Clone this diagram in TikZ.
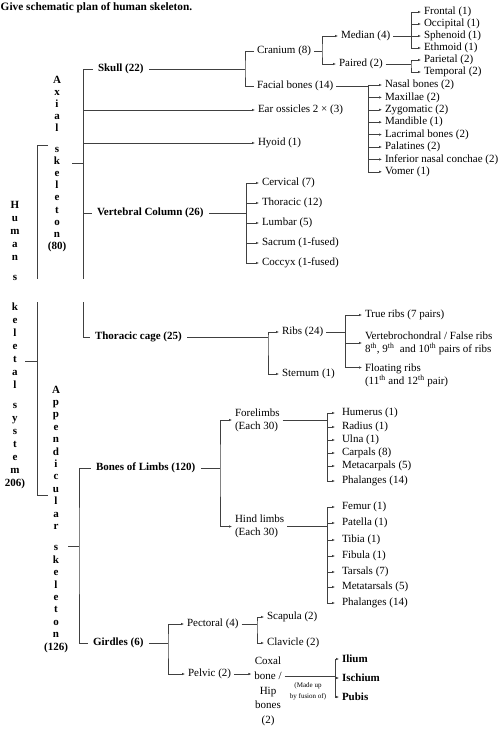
\documentclass[tikz,border=0pt]{standalone}
\usepackage{fontspec}
\setmainfont{Liberation Serif}
\usetikzlibrary{arrows.meta}

\tikzset{
  bone/.style={anchor=west, inner sep=1.5pt, outer sep=1.5pt, text=black,
    font=\fontsize{11}{13}\selectfont},
  part/.style={anchor=west, inner sep=1.5pt, outer sep=4pt, text=black,
    font=\bfseries\fontsize{11}{13}\selectfont},
  column/.style={anchor=north, align=center, inner sep=0pt, text=black},
  short/.style={shorten >=4pt},
}

\begin{document}
\begin{tikzpicture}[x=1pt, y=-1pt, >={Latex[length=3pt,width=2.4pt]}, line width=0.5pt, black!75]
\fill[white] (0,0) rectangle (499,733);
\useasboundingbox (0,0) rectangle (499,733);

% title
\node[anchor=west, inner sep=0pt, text=black, font=\bfseries\fontsize{11.3}{13}\selectfont] (title) at (0.5,8) {Give schematic plan of human skeleton.};

% vertical headings
\node[column, font=\bfseries\fontsize{11}{13}\selectfont] (humans) at (15,201.5)
  {H\\u\\m\\a\\n\\[7pt]s\\[17pt]k\\e\\l\\e\\t\\a\\l\\[7pt]s\\y\\s\\t\\e\\m\\206)};
\node[column, font=\bfseries\fontsize{11}{12.2}\selectfont] (axial) at (57,75.5)
  {A\\x\\i\\a\\l\\[8pt]s\\k\\e\\l\\e\\t\\o\\n\\(80)};
\node[column, font=\bfseries\fontsize{11}{12.4}\selectfont] (append) at (56,385.5)
  {A\\p\\p\\e\\n\\d\\i\\c\\u\\l\\a\\r\\[9pt]s\\k\\e\\l\\e\\t\\o\\n\\(126)};

% main parts
\node[part] (skull) at (92.5,69) {Skull (22)};
\node[part] (vert) at (91.5,213) {Vertebral Column (26)};
\node[part] (thor) at (89.5,337) {Thoracic cage (25)};
\node[part] (limbs) at (90.5,468) {Bones of Limbs (120)};
\node[part] (girdles) at (87.5,643) {Girdles (6)};

% outer brackets (broken where the page was cut)
\coordinate (gapT) at (0,279);
\coordinate (gapB) at (0,302);
\coordinate (humJ) at (37.5,361);
\coordinate (humT) at (48,145);
\coordinate (humB) at (48,495);
\draw (humans.east |- humJ) -- (humJ);
\draw (humT) -| (humJ |- gapT);
\draw (humJ |- gapB) |- (humB);

\coordinate (axJ) at (83,163);
\draw[shorten <=6pt] (axial.east |- axJ) -- (axJ);
\draw (skull.west) -| (axJ |- gapT);
\draw (axJ |- gapB) |- (thor.west);

\coordinate (apJ) at (79,546);
\draw (append.east |- apJ) -- (apJ);
\draw (limbs.west) -| (apJ) |- (girdles.west);

% skull
\node[bone] (ear) at (255,110) {Ear ossicles 2 × (3)};
\node[bone] (hyoid) at (255,143) {Hyoid (1)};
\draw[->] (axJ |- ear.west) -- (ear.west);
\draw[->] (axJ |- hyoid.west) -- (hyoid.west);
\draw (axJ |- vert.west) -- (vert.west);

\node[bone] (cran) at (254,51) {Cranium (8)};
\node[bone] (fac) at (254,86) {Facial bones (14)};
\coordinate (skB) at (245,69);
\draw (skull.east) -- (skB);
\draw (cran.west) -| (skB) |- (fac.west);

\node[bone] (median) at (338,36) {Median (4)};
\node[bone] (paired) at (336,64) {Paired (2)};
\coordinate (crB) at (322,51);
\draw (cran.east) -- (crB);
\draw[<->] (median.west) -| (crB) |- (paired.west);

\coordinate (mdB) at (411,36);
\draw (median.east) -- (mdB);
\foreach \nm/\txt/\yy in {frontal/Frontal (1)/12, occip/Occipital (1)/24,
    sphen/Sphenoid (1)/36, ethm/Ethmoid (1)/48}
{ \node[bone] (\nm) at (421,\yy) {\txt};
  \draw[->] (mdB |- \nm.west) -- (\nm.west); }
\draw (mdB |- frontal.west) -- (mdB |- ethm.west);

\coordinate (prB) at (411,64);
\draw (paired.east) -- (prB);
\node[bone] (pariet) at (421,60) {Parietal (2)};
\node[bone] (tempo) at (421,72) {Temporal (2)};
\draw[<->] (pariet.west) -| (prB) |- (tempo.west);

\coordinate (fcB) at (368,86);
\draw (fac.east) -- (fcB);
\foreach \nm/\txt/\yy in {nasal/Nasal bones (2)/85, maxil/Maxillae (2)/97.4,
    zygo/Zygomatic (2)/109.8, mand/Mandible (1)/122.2, lacr/Lacrimal bones (2)/134.6,
    palat/Palatines (2)/147, infc/Inferior nasal conchae (2)/159.4, vomer/Vomer (1)/171.8}
{ \node[bone] (\nm) at (382,\yy) {\txt};
  \draw[->] (fcB |- \nm.west) -- (\nm.west); }
\draw (fcB |- nasal.west) -- (fcB |- vomer.west);

% vertebral column
\coordinate (vcB) at (246,213);
\draw (vert.east) -- (vcB);
\foreach \nm/\txt/\yy in {cerv/Cervical (7)/183, thrc/Thoracic (12)/203,
    lumb/Lumbar (5)/223, sacr/Sacrum (1-fused)/243, cocc/Coccyx (1-fused)/263}
{ \node[bone] (\nm) at (259,\yy) {\txt};
  \draw[->] (vcB |- \nm.west) -- (\nm.west); }
\draw (vcB |- cerv.west) -- (vcB |- cocc.west);

% thoracic cage
\coordinate (thB) at (268,337);
\draw (thor.east) -- (thB);
\node[bone] (ribs) at (279,332) {Ribs (24)};
\node[bone] (stern) at (279,374) {Sternum (1)};
\draw[<->] (ribs.west) -| (thB) |- (stern.west);

\coordinate (rbB) at (345,332);
\draw (ribs.east) -- (rbB);
\node[bone] (truer) at (362,315) {True ribs (7 pairs)};
\node[bone, align=left] (falser) at (362,343)
  {Vertebrochondral / False ribs\\8\textsuperscript{th}, 9\textsuperscript{th}\ \ and 10\textsuperscript{th} pairs of ribs};
\node[bone, align=left, anchor=north west] (floatr) at (362,361)
  {Floating ribs\\(11\textsuperscript{th} and 12\textsuperscript{th} pair)};
\coordinate (flt) at ([yshift=-6.5pt]floatr.north west);
\draw[->] (rbB |- truer.west) -- (truer.west);
\draw[->] (rbB |- falser.west) -- (falser.west);
\draw[->] (rbB |- flt) -- (flt);
\draw (rbB |- truer.west) -- (rbB |- flt);

% limbs
\coordinate (lmB) at (220,468);
\draw (limbs.east) -- (lmB);
\node[bone, align=left] (fore) at (232,420) {Forelimbs\\(Each 30)};
\node[bone, align=left] (hind) at (232,526.5) {Hind limbs\\(Each 30)};
\draw[<->] (fore.west) -| (lmB) |- (hind.west);

\coordinate (frB) at (327,420);
\draw (fore.east) -- (frB);
\foreach \nm/\txt/\yy in {hum/Humerus (1)/413, rad/Radius (1)/427, ulna/Ulna (1)/440,
    carp/Carpals (8)/453, mcarp/Metacarpals (5)/466, fphal/Phalanges (14)/481}
{ \node[bone] (\nm) at (339,\yy) {\txt};
  \draw[->, short] (frB |- \nm.west) -- (\nm.west); }
\draw (frB |- hum.west) -- (frB |- fphal.west);

\coordinate (hdB) at (327,526.5);
\draw (hind.east) -- (hdB);
\foreach \nm/\txt/\yy in {fem/Femur (1)/507, pat/Patella (1)/523, tib/Tibia (1)/540,
    fib/Fibula (1)/556, tars/Tarsals (7)/572, mtars/Metatarsals (5)/587, hphal/Phalanges (14)/603}
{ \node[bone] (\nm) at (339,\yy) {\txt};
  \draw[->, short] (hdB |- \nm.west) -- (\nm.west); }
\draw (hdB |- fem.west) -- (hdB |- hphal.west);

% girdles
\coordinate (gdB) at (168,643);
\draw (girdles.east) -- (gdB);
\node[bone] (pect) at (184,624) {Pectoral (4)};
\node[bone] (pelv) at (185,674) {Pelvic (2)};
\draw[<->] (pect.west) -| (gdB) |- (pelv.west);

\coordinate (pcB) at (257,624);
\draw (pect.east) -- (pcB);
\node[bone] (scap) at (264,617) {Scapula (2)};
\node[bone] (clav) at (264,643) {Clavicle (2)};
\draw[<->] (scap.west) -| (pcB) |- (clav.west);

\node[bone, anchor=center, align=center, font=\fontsize{11}{14.7}\selectfont] (coxal) at (268,691.5)
  {Coxal\\bone /\\Hip\\bones\\(2)};
\draw[->] (pelv.east) -- (pelv.east -| coxal.west);

\coordinate (cxB) at (335,676);
\draw (coxal.east |- cxB) -- (cxB);
\node[text=black, inner sep=0pt, align=center, font=\fontsize{7}{11}\selectfont] (fusion) at (308,691.5)
  {(Made up\\by fusion of)};
\foreach \nm/\txt/\yy in {ilium/Ilium/659, isch/Ischium/678, pubis/Pubis/697}
{ \node[bone, font=\bfseries\fontsize{11}{13}\selectfont] (\nm) at (339,\yy) {\txt};
  \draw[->] (cxB |- \nm.west) -- (\nm.west); }
\draw (cxB |- ilium.west) -- (cxB |- pubis.west);
\end{tikzpicture}
\end{document}
